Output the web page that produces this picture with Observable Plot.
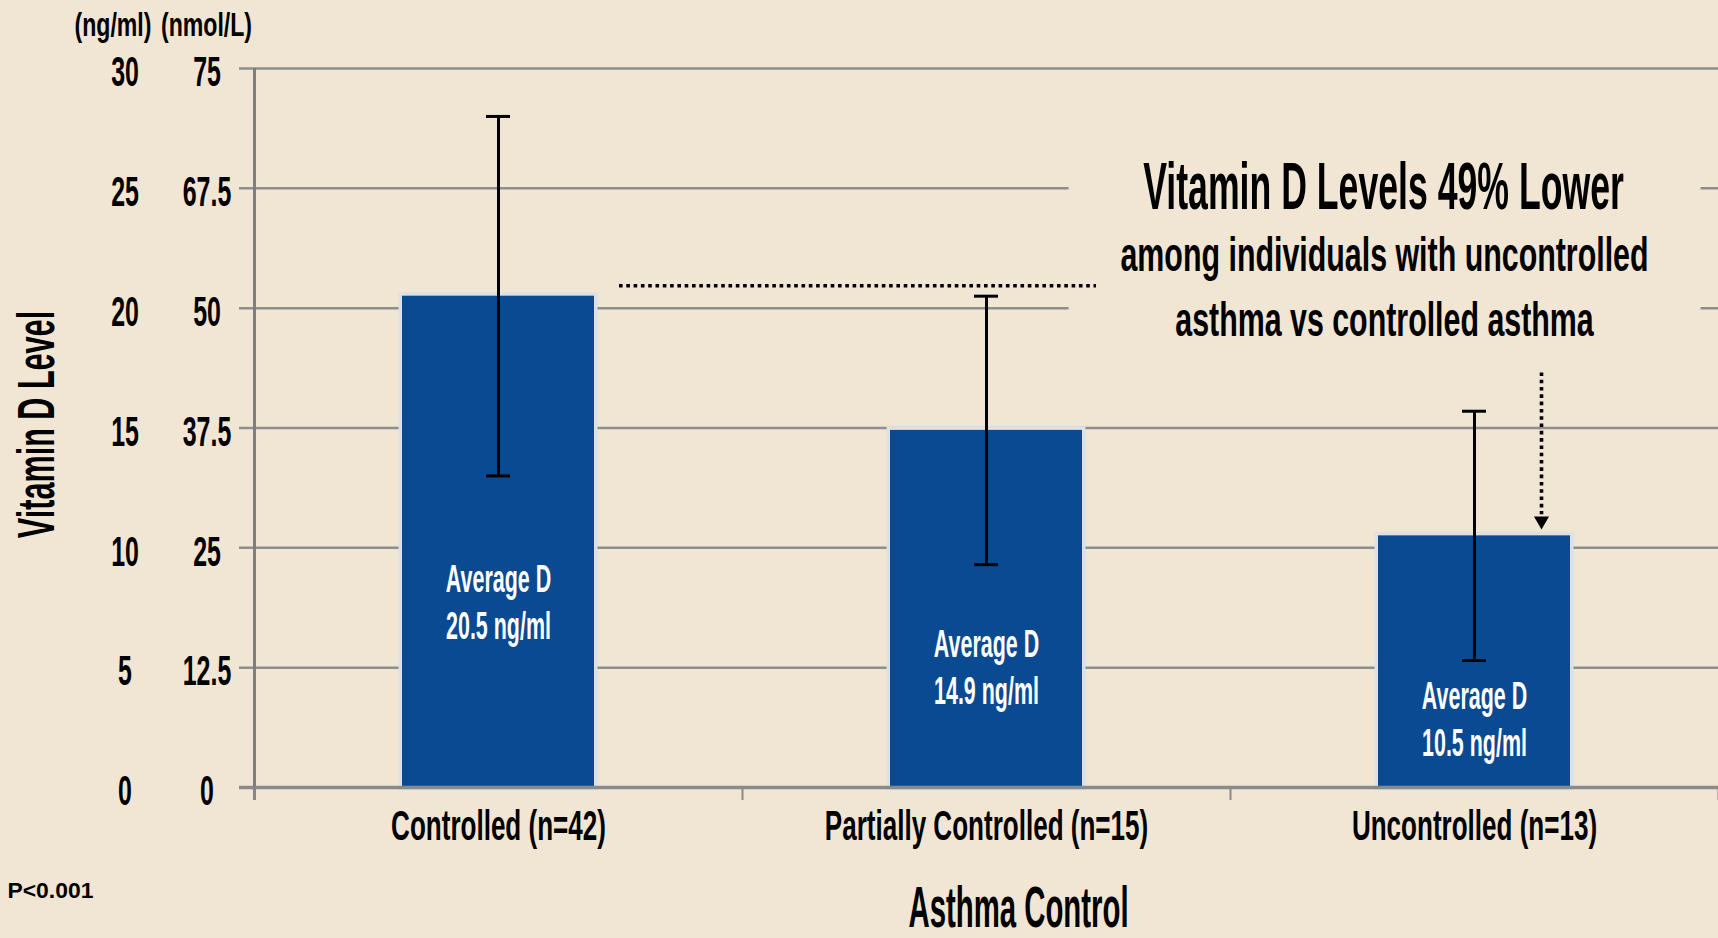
<!DOCTYPE html>
<html>
<head>
<meta charset="utf-8">
<script src="https://cdn.jsdelivr.net/npm/d3@7"></script>
<script src="https://cdn.jsdelivr.net/npm/@observablehq/plot@0.6"></script>
<style>
  html, body { margin: 0; padding: 0; background: #f1e6d4; }
  #chart { width: 1718px; height: 938px; overflow: hidden; }
</style>
</head>
<body>
<div id="chart"></div>
<script>
// ---- data ----
const categories = ["Controlled (n=42)", "Partially Controlled (n=15)", "Uncontrolled (n=13)"];
const averages = [20.5, 14.9, 10.5];
const errorLow = [13.0, 9.3, 5.3];
const errorHigh = [28.0, 20.5, 15.7];
const ngTicks = [0, 5, 10, 15, 20, 25, 30];
const nmolTickLabels = ["0", "12.5", "25", "37.5", "50", "67.5", "75"];
const unitNg = "(ng/ml)";
const unitNmol = "(nmol/L)";
const barLabelPrefix = "Average D";
const title = "Vitamin D Levels 49% Lower";
const subtitle = ["among individuals with uncontrolled", "asthma vs controlled asthma"];
const yLabel = "Vitamin D Level";
const xLabel = "Asthma Control";
const pNote = "P<0.001";

// ---- derived table ----
const rows = categories.map((c, i) => ({category: c, i, avg: averages[i], lo: errorLow[i], hi: errorHigh[i]}));
const boundaries = d3.range(categories.length + 1);
const centers = rows.map(d => d.i + 0.5);

// ---- style ----
const bg = "#f1e6d4";
const barColor = "#0a4a92";
const font = "'Liberation Sans', Arial, sans-serif";
// horizontal condensing per font size (emulates the condensed display face)
const squeeze = {22: 1.04, 33: 0.7, 38: 0.565, 42: 0.62, 43: 0.58, 49: 0.62, 51: 0.6, 57: 0.515, 67: 0.532};
const dotted = {stroke: "#000", strokeWidth: 3.6, strokeDasharray: "3.6,3.7"};

const plot = Plot.plot({
  width: 1718,
  height: 938,
  marginLeft: 239,
  marginRight: 0,
  marginTop: 68,
  marginBottom: 151,
  style: {background: bg, fontFamily: font, fontWeight: "bold", color: "#000"},
  x: {domain: [0, categories.length], insetLeft: 15},
  y: {domain: d3.extent(ngTicks)},
  marks: [
    // gridlines
    Plot.ruleY(ngTicks, {stroke: "#8e8e8e", strokeWidth: 2.5}),
    // background box behind annotation text
    Plot.frame({fill: bg, stroke: "none", insetLeft: 829, insetRight: 18, insetTop: 52, insetBottom: 437}),
    // bars (halo + fill)
    Plot.rect(rows, {x1: "i", x2: d => d.i + 1, y1: 0, y2: "avg", insetLeft: 148, insetRight: 148, fill: "none", stroke: "#dfe0e3", strokeWidth: 7}),
    Plot.rect(rows, {x1: "i", x2: d => d.i + 1, y1: 0, y2: "avg", insetLeft: 148, insetRight: 148, fill: barColor}),
    // axes lines
    Plot.ruleY([0], {stroke: "#8a8a8a", strokeWidth: 3.5}),
    Plot.ruleX([0], {stroke: "#7f7f7f", strokeWidth: 3, insetBottom: -13}),
    Plot.ruleX(boundaries, {y1: 0, y2: 0, insetBottom: -13, stroke: "#8a8a8a", strokeWidth: 2}),
    // error bars
    Plot.ruleX(rows, {x: d => d.i + 0.5, y1: "lo", y2: "hi", stroke: "#000", strokeWidth: 3}),
    Plot.ruleY(rows, {y: "hi", x1: d => d.i + 0.5, x2: d => d.i + 0.5, insetLeft: -12, insetRight: -12, stroke: "#000", strokeWidth: 3}),
    Plot.ruleY(rows, {y: "lo", x1: d => d.i + 0.5, x2: d => d.i + 0.5, insetLeft: -12, insetRight: -12, stroke: "#000", strokeWidth: 3}),
    // dotted comparison line and arrow
    Plot.ruleY([rows[0]], {y: "avg", x1: d => d.i + 0.5, x2: d => d.i + 1.5, insetLeft: 121, insetRight: -110, dy: -10.5, ...dotted}),
    Plot.ruleX([rows[2]], {x: d => d.i + 0.5, dx: 67, y1: 17.3, y2: "avg", insetBottom: 21, ...dotted}),
    Plot.dot([rows[2]], {x: d => d.i + 0.5, y: "avg", dx: 67, dy: -15, symbol: "triangle", rotate: 180, r: 5.6, fill: "#000", stroke: "none"}),
    // bar labels
    Plot.text(rows, {x: d => d.i + 0.5, y: d => d.avg * 0.487 - 3.79, text: d => `${barLabelPrefix}\n${d.avg} ng/ml`, fill: "#fff", fontSize: 38, lineAnchor: "bottom", lineHeight: 1.24}),
    // y axes (ng/ml and nmol/L)
    Plot.axisY(ngTicks, {anchor: "left", tickSize: 0, tickPadding: 0, dx: -114.5, dy: 4, textAnchor: "middle", fontSize: 43, label: null}),
    Plot.axisY(ngTicks, {anchor: "left", tickSize: 0, tickPadding: 0, dx: -32.5, dy: 4, textAnchor: "middle", fontSize: 43, label: null, tickFormat: d => nmolTickLabels[ngTicks.indexOf(d)]}),
    // x axis category labels
    Plot.axisX(centers, {anchor: "bottom", tickSize: 0, tickPadding: 23, fontSize: 42, label: null, tickFormat: v => categories[Math.floor(v)]}),
    // units
    Plot.text([unitNg], {text: d => d, frameAnchor: "top-left", dx: 112.5 - 239, dy: 35 - 68, textAnchor: "middle", lineAnchor: "bottom", fontSize: 33}),
    Plot.text([unitNmol], {text: d => d, frameAnchor: "top-left", dx: 206 - 239, dy: 35 - 68, textAnchor: "middle", lineAnchor: "bottom", fontSize: 33}),
    // axis titles
    Plot.text([yLabel], {text: d => d, frameAnchor: "left", rotate: -90, dx: 53 - 239, dy: -3.5, textAnchor: "middle", lineAnchor: "bottom", fontSize: 51}),
    Plot.text([xLabel], {text: d => d, frameAnchor: "bottom-left", dx: 1018 - 239, dy: 926 - 787, textAnchor: "middle", lineAnchor: "bottom", fontSize: 57}),
    // annotation
    Plot.text([title], {text: d => d, frameAnchor: "top-left", dx: 1383 - 239, dy: 208 - 68, textAnchor: "middle", lineAnchor: "bottom", fontSize: 67}),
    Plot.text([subtitle.join("\n")], {text: d => d, frameAnchor: "top-left", dx: 1384 - 239, dy: 335 - 68, textAnchor: "middle", lineAnchor: "bottom", lineHeight: 65 / 49, fontSize: 49}),
    // p-value note
    Plot.text([pNote], {text: d => d, frameAnchor: "bottom-left", dx: 7 - 239, dy: 897 - 787, textAnchor: "start", lineAnchor: "bottom", fontSize: 22})
  ]
});

document.getElementById("chart").append(plot);

// condense text horizontally around each text's anchor point
for (const t of plot.querySelectorAll("text")) {
  const fs = Math.round(parseFloat(getComputedStyle(t).fontSize));
  const s = squeeze[fs];
  if (!s) continue;
  let pre = t.getAttribute("transform") || "";
  const xa = t.getAttribute("x");
  if (xa !== null && xa !== "" && !isNaN(+xa) && +xa !== 0) {
    pre += ` translate(${+xa},0)`;
    t.removeAttribute("x");
  }
  t.setAttribute("transform", `${pre} scale(${s},1)`);
}
</script>
</body>
</html>
